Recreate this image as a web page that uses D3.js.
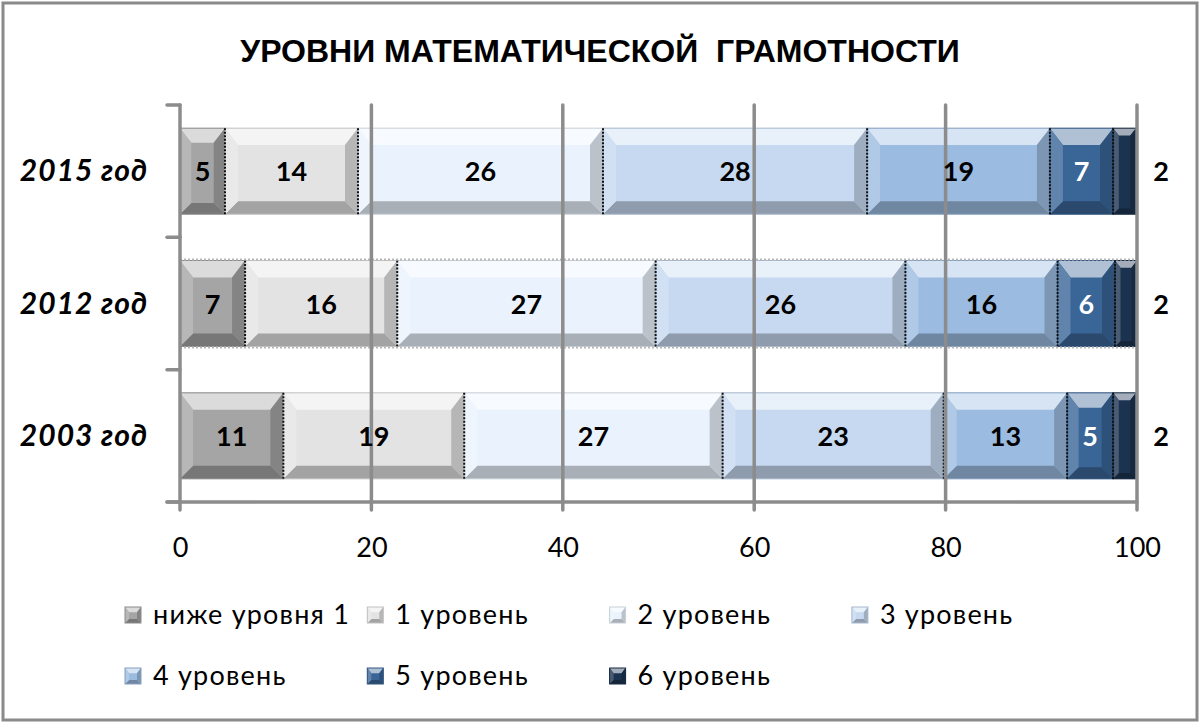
<!DOCTYPE html>
<html><head><meta charset="utf-8">
<script src="https://cdn.jsdelivr.net/npm/d3@7"></script>
<style>body{margin:0;background:#fff}svg{display:block}</style>
</head><body>
<svg id="c" width="1200" height="723"></svg>
<script>
const title = "УРОВНИ МАТЕМАТИЧЕСКОЙ  ГРАМОТНОСТИ";
const years = ["2015 год", "2012 год", "2003 год"];
const levels = ["ниже уровня 1", "1 уровень", "2 уровень", "3 уровень", "4 уровень", "5 уровень", "6 уровень"];
const belowLevel1 = [4.7, 6.8, 10.8];
const level1 = [13.9, 15.9, 18.9];
const level2 = [25.6, 27.0, 27.0];
const level3 = [27.6, 26.1, 23.1];
const level4 = [19.1, 15.9, 12.9];
const level5 = [6.6, 6.0, 4.8];
const level6 = [2.4, 2.3, 2.4];
const xTicks = [0, 20, 40, 60, 80, 100];
const colors = ["#a5a5a5", "#e3e3e3", "#eaf3fd", "#c6d9f0", "#9bbbe0", "#3a6597", "#1c3350"];
const labelColors = ["#000", "#000", "#000", "#000", "#000", "#fff", "#000"];

const series = [belowLevel1, level1, level2, level3, level4, level5, level6];
const svg = d3.select("#c");
const FONT = "Lato, 'Noto Sans', sans-serif";

svg.append("rect").attr("x", 3).attr("y", 3).attr("width", 1194).attr("height", 717)
  .attr("fill", "#fff").attr("stroke", "#8a8a8a").attr("stroke-width", 3);

svg.append("text").attr("x", 600).attr("y", 62).attr("text-anchor", "middle")
  .attr("font-family", "'Liberation Sans', Arial, sans-serif").attr("font-weight", "bold")
  .attr("font-size", 32).attr("xml:space", "preserve").style("white-space", "pre").text(title);

const x = d3.scaleLinear().domain([0, 100]).range([180, 1137]);
const y = d3.scaleBand().domain(years).range([105, 502]).paddingInner(0.35).paddingOuter(0.175);

const mix = (c1, c2, t) => d3.interpolateRgb(c1, c2)(t);

function bevel(g, x0, y0, w, h, color, bmax) {
  const b = Math.min(bmax, w / 4, h / 4);
  g.append("rect").attr("x", x0).attr("y", y0).attr("width", w).attr("height", h).attr("fill", color);
  const polys = [
    [[x0, y0], [x0 + w, y0], [x0 + w - b, y0 + b * 1.3], [x0 + b, y0 + b * 1.3], mix(color, "#fff", 0.6)],
    [[x0, y0 + h], [x0 + w, y0 + h], [x0 + w - b, y0 + h - b], [x0 + b, y0 + h - b], mix(color, "#000", 0.28)],
    [[x0, y0], [x0 + b, y0 + b * 1.3], [x0 + b, y0 + h - b], [x0, y0 + h], mix(color, "#fff", 0.2)],
    [[x0 + w, y0], [x0 + w - b, y0 + b * 1.3], [x0 + w - b, y0 + h - b], [x0 + w, y0 + h], mix(color, "#000", 0.2)]
  ];
  polys.forEach(p => {
    g.append("polygon").attr("points", p.slice(0, 4).map(q => q.join(",")).join(" ")).attr("fill", p[4]);
  });
  g.append("rect").attr("x", x0).attr("y", y0).attr("width", w).attr("height", h)
    .attr("fill", "none").attr("stroke", mix(color, "#000", 0.15)).attr("stroke-width", 1);
}

// stacked data
const stackData = years.map((yr, i) => {
  const o = { year: yr };
  levels.forEach((lv, j) => o[lv] = series[j][i]);
  return o;
});
const stacked = d3.stack().keys(levels)(stackData);

const barsG = svg.append("g");
stacked.forEach((s, j) => {
  s.forEach((d, i) => {
    const g = barsG.append("g");
    const x0 = x(d[0]), x1 = x(d[1]);
    bevel(g, x0, y(years[i]), x1 - x0, y.bandwidth(), colors[j], 13);
  });
});
// dotted separators
stacked.forEach((s, j) => {
  if (j === 0) return;
  s.forEach((d, i) => {
    barsG.append("line").attr("x1", x(d[0])).attr("x2", x(d[0]))
      .attr("y1", y(years[i])).attr("y2", y(years[i]) + y.bandwidth())
      .attr("stroke", "#111").attr("stroke-width", 2).attr("stroke-dasharray", "2,1.5");
  });
});
// dotted outline of middle bar
{
  const yy = y(years[1]);
  [yy - 1, yy + y.bandwidth() + 1].forEach(v => {
    barsG.append("line").attr("x1", x(0)).attr("x2", x(100)).attr("y1", v).attr("y2", v)
      .attr("stroke", "#b8b8b8").attr("stroke-width", 2).attr("stroke-dasharray", "2,2");
  });
}

// gridlines over bars
const gridG = svg.append("g");
gridG.selectAll("line.grid").data(xTicks).join("line")
  .attr("x1", d => x(d)).attr("x2", d => x(d)).attr("y1", 105).attr("y2", 510)
  .attr("stroke", "#8c8c8c").attr("stroke-width", 3.5).attr("stroke-linecap", "round");
// x axis line
gridG.append("line").attr("x1", 167).attr("x2", x(100)).attr("y1", 502).attr("y2", 502)
  .attr("stroke", "#8c8c8c").attr("stroke-width", 3.5).attr("stroke-linecap", "round");
// y ticks at band boundaries
const bounds = years.map(d => y(d) - y.step() * y.paddingInner() / 2 - (y.step() * (y.paddingOuter() - y.paddingInner() / 2))).concat([502]);
gridG.selectAll("line.yt").data(bounds).join("line")
  .attr("x1", 167).attr("x2", 180).attr("y1", d => d).attr("y2", d => d)
  .attr("stroke", "#8c8c8c").attr("stroke-width", 3.5).attr("stroke-linecap", "round");

// x axis labels
const xAxis = d3.axisBottom(x).tickValues(xTicks).tickSize(0).tickPadding(0);
const xg = svg.append("g").attr("transform", "translate(0,557)").call(xAxis);
xg.select(".domain").remove();
xg.selectAll("text").attr("dy", 0).attr("font-family", FONT).attr("font-size", 27).attr("fill", "#000");

// y labels
svg.selectAll("text.yl").data(years).join("text").attr("class", "yl")
  .attr("x", 148).attr("y", d => y(d) + y.bandwidth() / 2 + 10).attr("text-anchor", "end")
  .attr("font-family", FONT).attr("font-weight", "bold").attr("font-style", "italic")
  .attr("font-size", 30).attr("letter-spacing", 1).text(d => d);

// data labels
stacked.forEach((s, j) => {
  s.forEach((d, i) => {
    const last = j === levels.length - 1;
    const cx = last ? x(100) + 24 : (x(d[0]) + x(d[1])) / 2;
    svg.append("text").attr("x", cx).attr("y", y(years[i]) + y.bandwidth() / 2 + 10)
      .attr("text-anchor", "middle").attr("font-family", FONT).attr("font-weight", "bold")
      .attr("font-size", 27).attr("fill", last ? "#000" : labelColors[j])
      .text(Math.round(d.data[levels[j]]));
  });
});

// legend
const lg = svg.append("g");
levels.forEach((lv, j) => {
  const row = Math.floor(j / 4), col = j % 4;
  const lx = 125 + col * 242.3, ly = 607 + row * 61;
  const g = lg.append("g");
  bevel(g, lx, ly, 16, 16, colors[j], 4);
  g.append("text").attr("x", lx + 28).attr("y", ly + 17).attr("font-family", FONT)
    .attr("font-size", 27).attr("letter-spacing", 1.2).attr("fill", "#000").text(lv);
});
</script>
</body></html>
